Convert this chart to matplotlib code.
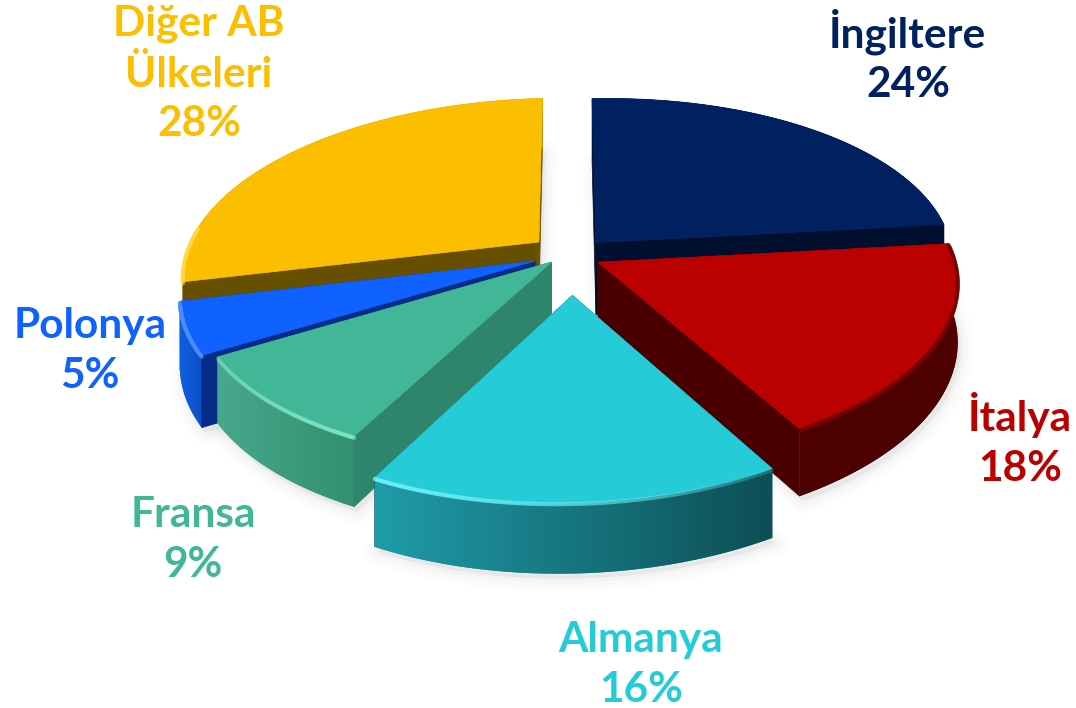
import numpy as np
import matplotlib
matplotlib.use("Agg")
import matplotlib.pyplot as plt
from matplotlib.colors import to_rgb
from matplotlib.collections import LineCollection
from matplotlib.patches import Polygon

# data
names = ["İngiltere", "İtalya", "Almanya", "Fransa", "Polonya", "Diğer AB\nÜlkeleri"]
shares = [24, 18, 16, 9, 5, 28]

# style per slice
top_colors = ["#002060", "#BB0000", "#26CBD8", "#41B797", "#0F62FE", "#FCBE00"]
text_colors = ["#002060", "#BB0000", "#26CBD8", "#41B797", "#0F62FE", "#FCBE00"]
cut_colors = ["#000F2E", "#4A0000", "#0F5058", "#2F846C", "#052C86", "#665000"]
wall_left = ["#001440", "#4D0000", "#1F9CA9", "#48A88C", "#0F5FE0", "#D9A300"]
wall_right = ["#001440", "#4D0000", "#0E4E55", "#32906F", "#0A50C8", "#D9A300"]
rim_colors = ["#002060", "#7A0000", "#6CF2FA", "#7DE6C6", "#4C8CFF", "#FFD84A"]
rim_alpha = [(0, 0), (0.8, 0.8), (0.8, 0.1), (0.2, 0.7), (0.5, 0.5), (0.7, 0.7)]
explode = [0.10, 0.11, 0.25, 0.07, 0.10, 0.10]
turn = [-15, -7, 4, 10, 10, 0]
radius = [1.0, 0.99, 0.97, 0.985, 0.98, 1.0]
thick = [1.25, 1.0, 1.0, 1.05, 1.15, 1.0]
label_xy = [(908, 56), (1020, 440), (641, 665), (193, 540), (90, 351), (199, 74)]
draw_order = [0, 5, 4, 3, 1, 2]

cx, cy = 566, 252
rx, ry = 355, 168
persp = 0.15
tilt = 8
depth = 58


def project(u, v, z=0.0):
    s = 1 / (1 + persp * v)
    return np.column_stack([cx + rx * u * s, cy - ry * v * s - tilt * u * s + depth * z * s])


def slice_geometry(i):
    a0, a1 = np.radians(edges[i]), np.radians(edges[i + 1])
    mid = (a0 + a1) / 2 + np.radians(turn[i])
    ex, ey = explode[i] * np.cos(mid), explode[i] * np.sin(mid)
    th = np.linspace(a0, a1, 120)
    u = ex + radius[i] * np.cos(th)
    v = ey + radius[i] * np.sin(th)
    apex = (np.array([ex]), np.array([ey]))
    k = thick[i]
    return th, project(u, v), project(u, v, k), project(*apex), project(*apex, k)


fig = plt.figure(figsize=(10.76, 7.08), dpi=100)
ax = fig.add_axes([0, 0, 1, 1])

edges = 90 - 3.6 * np.cumsum([0] + shares)

# soft shadow under the pieces
for i in range(len(shares)):
    th, top_arc, bot_arc, apex_top, apex_bot = slice_geometry(i)
    outline = np.vstack([apex_bot, bot_arc])
    for lw, alpha in [(18, 0.025), (11, 0.03), (5, 0.04)]:
        ax.add_patch(Polygon(outline + [3, 5], closed=True, fc="#808080", ec="#808080",
                             lw=lw, alpha=alpha, joinstyle="round", zorder=1))


def cut_face(i, k, apex_top, apex_bot, top_arc, bot_arc, z):
    quad = np.vstack([apex_top, top_arc[k], bot_arc[k], apex_bot])
    ax.add_patch(Polygon(quad, closed=True, fc=cut_colors[i], ec=cut_colors[i], lw=0.5, zorder=z))


z = 2
for i in draw_order:
    th, top_arc, bot_arc, apex_top, apex_bot = slice_geometry(i)

    # a cut face looks at the viewer only on one side of the pie
    start_front = np.cos(th[0]) < 0
    end_front = np.cos(th[-1]) > 0

    if not start_front:
        cut_face(i, 0, apex_top, apex_bot, top_arc, bot_arc, z)
    if not end_front:
        cut_face(i, -1, apex_top, apex_bot, top_arc, bot_arc, z)

    # outer wall, coloured left to right
    wall = np.vstack([top_arc, bot_arc[::-1]])
    wall_patch = Polygon(wall, closed=True, fc=wall_left[i], ec="none", zorder=z)
    ax.add_patch(wall_patch)
    c0, c1 = np.array(to_rgb(wall_left[i])), np.array(to_rgb(wall_right[i]))
    grad = (c0 + (c1 - c0) * np.linspace(0, 1, 256)[:, None])[None, :, :]
    im = ax.imshow(grad, extent=[wall[:, 0].min(), wall[:, 0].max(), wall[:, 1].max(), wall[:, 1].min()],
                   aspect="auto", interpolation="bilinear", zorder=z)
    im.set_clip_path(wall_patch)

    # visible cut faces go over the wall
    if start_front:
        cut_face(i, 0, apex_top, apex_bot, top_arc, bot_arc, z + 0.1)
    if end_front:
        cut_face(i, -1, apex_top, apex_bot, top_arc, bot_arc, z + 0.1)

    # top face and rim highlight
    face = np.vstack([apex_top, top_arc])
    ax.add_patch(Polygon(face, closed=True, fc=top_colors[i], ec=top_colors[i], lw=0.5, zorder=z + 0.2))
    front = np.sin(th) < 0.15
    if rim_alpha[i][0] > 0 and front.any():
        pts = top_arc[front] + [0, 1.5]
        segs = np.stack([pts[:-1], pts[1:]], axis=1)
        t = (pts[:-1, 0] - pts[:, 0].min()) / (pts[:, 0].max() - pts[:, 0].min())
        rgba = np.tile(to_rgb(rim_colors[i]) + (1.0,), (len(segs), 1))
        rgba[:, 3] = rim_alpha[i][0] + (rim_alpha[i][1] - rim_alpha[i][0]) * t
        ax.add_collection(LineCollection(segs, colors=rgba, linewidths=3, capstyle="round", zorder=z + 0.3))
    z += 1

for i in range(len(shares)):
    ax.text(label_xy[i][0], label_xy[i][1], f"{names[i]}\n{shares[i]}%", color=text_colors[i],
            fontsize=30.5, fontweight="bold", family="Lato", ha="center", va="center",
            linespacing=1.37, zorder=20)

ax.set_xlim(0, 1076)
ax.set_ylim(708, 0)
ax.axis("off")
fig.savefig("out.png", dpi=100)
